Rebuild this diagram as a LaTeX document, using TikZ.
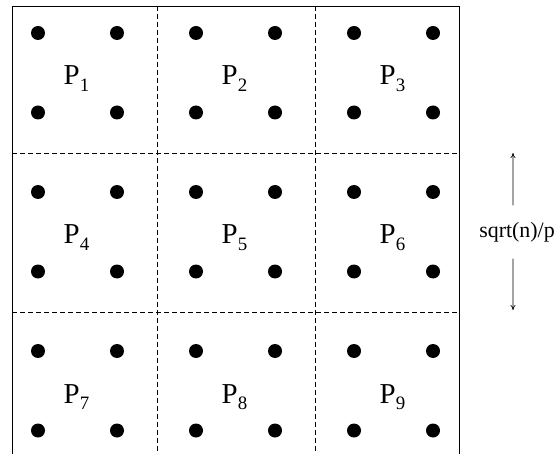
\documentclass[tikz,border=0pt]{standalone}
\usepackage{fontspec}
\setmainfont{Liberation Serif}
\usetikzlibrary{arrows.meta}

\newcommand{\subp}[1]{\raisebox{-6.5bp}{\fontsize{19}{19}\selectfont #1}}

\begin{document}
\begin{tikzpicture}[x=1bp, y=-1bp,
    punto/.style={circle, fill=black, inner sep=0pt, minimum size=14bp},
    etiq/.style={anchor=base, inner sep=0pt, font=\fontsize{29}{32}\selectfont},
    borde/.style={line width=0.8bp},
    rejilla/.style={line width=0.8bp, dash pattern=on 5bp off 3bp},
    flecha/.style={-{To[length=5bp,width=5bp]}, line width=0.7bp}
  ]
  \useasboundingbox (0,0) rectangle (555,454);

  % Marco exterior (sin lado inferior)
  \draw[borde] (12,454) -- (12,6) -- (459,6) -- (459,454);

  % Divisiones entre procesadores
  \draw[rejilla] (157,6) -- (157,454);
  \draw[rejilla] (315,6) -- (315,454);
  \draw[rejilla] (12,153) -- (459,153);
  \draw[rejilla] (12,312) -- (459,312);

  % Puntos y etiquetas de cada bloque
  \foreach \r in {0,1,2} {
    \foreach \c in {0,1,2} {
      \pgfmathtruncatemacro{\k}{3*\r+\c+1}
      \pgfmathsetmacro{\xa}{38+158*\c}
      \pgfmathsetmacro{\ya}{33+159*\r}
      \node[punto] (p\k a) at (\xa,\ya) {};
      \node[punto] (p\k b) at (\xa+79,\ya) {};
      \node[punto] (p\k c) at (\xa,\ya+79.5) {};
      \node[punto] (p\k d) at (\xa+79,\ya+79.5) {};
      \node[etiq] (P\k) at (\xa+38.5,\ya+52) {P\subp{\k}};
    }
  }

  % Medida del lado
  \node[font=\fontsize{22}{26}\selectfont, minimum height=53bp, inner sep=0pt] (lado) at (517,232) {sqrt(n)/p};
  \coordinate (arriba) at (513,153);
  \coordinate (abajo) at (513,310);
  \draw[flecha] ([xshift=-4bp]lado.north) -- (arriba);
  \draw[flecha] ([xshift=-4bp]lado.south) -- (abajo);
\end{tikzpicture}
\end{document}
